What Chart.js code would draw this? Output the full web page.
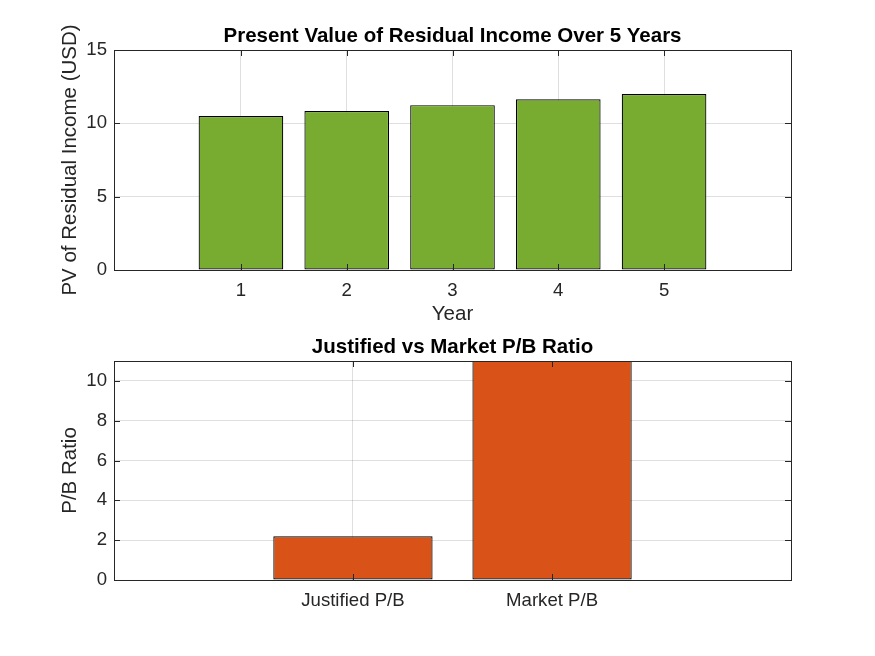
<!DOCTYPE html>
<html>
<head>
<meta charset="utf-8">
<script src="https://cdn.jsdelivr.net/npm/chart.js@4/dist/chart.umd.min.js"></script>
<style>
  html, body { margin: 0; padding: 0; background: #ffffff; }
  #wrap { position: relative; width: 875px; height: 656px; }
  canvas { position: absolute; left: 0; top: 0; }
</style>
</head>
<body>
<div id="wrap">
  <canvas id="c1" width="875" height="656"></canvas>
  <canvas id="c2" width="875" height="656"></canvas>
</div>
<script>
// ---- data ----
const years = [1, 2, 3, 4, 5];
const pvResidualIncome = [10.50, 10.84, 11.24, 11.64, 12.00];
const pvTicks = [0, 5, 10, 15];

const pbLabels = ['Justified P/B', 'Market P/B'];
const pbValues = [2.2, 12.0];
const pbTicks = [0, 2, 4, 6, 8, 10];

// ---- styles ----
const AXIS = '#262626';
const GRID = 'rgba(38,38,38,0.15)';
const FONT = '"Liberation Sans", Arial, Helvetica, sans-serif';
const TICK_SIZE = 18.6;
const LABEL_SIZE = 20.5;
const TITLE_SIZE = 20.5;

function boxPlugin(titleText) {
  return {
    id: 'matlabBox',
    afterDraw(chart) {
      const ctx = chart.ctx;
      const a = chart.chartArea;
      const xs = chart.scales.x, ys = chart.scales.y;
      ctx.save();
      ctx.strokeStyle = AXIS;
      ctx.lineWidth = 1;
      // ticks (inward, mirrored)
      const tl = 6;
      ctx.beginPath();
      xs.ticks.forEach(t => {
        const px = Math.round(xs.getPixelForValue(t.value)) + 0.5;
        ctx.moveTo(px, a.bottom); ctx.lineTo(px, a.bottom - tl);
        ctx.moveTo(px, a.top); ctx.lineTo(px, a.top + tl);
      });
      ys.ticks.forEach(t => {
        const py = Math.round(ys.getPixelForValue(t.value)) + 0.5;
        ctx.moveTo(a.left, py); ctx.lineTo(a.left + tl, py);
        ctx.moveTo(a.right, py); ctx.lineTo(a.right - tl, py);
      });
      ctx.stroke();
      // box
      ctx.strokeRect(Math.round(a.left) + 0.5, Math.round(a.top) + 0.5,
                     Math.round(a.right - a.left), Math.round(a.bottom - a.top));
      // title
      ctx.fillStyle = '#000000';
      ctx.font = 'bold ' + TITLE_SIZE + 'px ' + FONT;
      ctx.textAlign = 'center';
      ctx.textBaseline = 'middle';
      ctx.fillText(titleText, (a.left + a.right) / 2, a.top - 14);
      ctx.restore();
    }
  };
}

function makeChart(id, cfg) {
  const xLabelsFor = cfg.xTickLabel;
  return new Chart(document.getElementById(id), {
    type: 'bar',
    data: {
      datasets: [{
        data: cfg.values.map((v, i) => ({ x: cfg.xpos[i], y: v })),
        backgroundColor: cfg.color,
        borderColor: '#000000',
        borderWidth: 1.2,
        borderSkipped: false,
        categoryPercentage: 1.0,
        barPercentage: 0.8
      }]
    },
    options: {
      responsive: false,
      animation: false,
      devicePixelRatio: 1,
      layout: { padding: cfg.padding },
      plugins: { legend: { display: false }, title: { display: false }, tooltip: { enabled: false } },
      scales: {
        x: {
          type: 'linear',
          offset: false,
          min: cfg.xmin, max: cfg.xmax,
          afterBuildTicks: s => { s.ticks = cfg.xpos.map(v => ({ value: v })); },
          afterFit: s => { s.height = cfg.xAxisH; },
          grid: { color: GRID, drawTicks: false, offset: false },
          border: { display: false },
          ticks: {
            padding: 9.5,
            color: AXIS,
            font: { family: FONT, size: TICK_SIZE },
            maxRotation: 0,
            callback: (v) => xLabelsFor(v)
          },
          title: {
            display: !!cfg.xTitle,
            text: cfg.xTitle || '',
            color: AXIS,
            font: { family: FONT, size: LABEL_SIZE },
            padding: { top: 0, bottom: cfg.xTitlePad }
          }
        },
        y: {
          min: cfg.ymin, max: cfg.ymax,
          afterBuildTicks: s => { s.ticks = cfg.yTicks.map(v => ({ value: v })); },
          afterFit: s => { s.width = 114 - cfg.padding.left; },
          grid: { color: GRID, drawTicks: false },
          border: { display: false },
          ticks: {
            padding: 7,
            color: AXIS,
            font: { family: FONT, size: TICK_SIZE }
          },
          title: {
            display: true,
            text: cfg.yTitle,
            color: AXIS,
            font: { family: FONT, size: LABEL_SIZE },
            padding: { top: cfg.yTitlePad, bottom: 0 }
          }
        }
      }
    },
    plugins: [boxPlugin(cfg.title)]
  });
}

makeChart('c1', {
  values: pvResidualIncome,
  xpos: years,
  xTickLabel: v => String(years[years.indexOf(v)]),
  color: '#77AC30',
  xmin: -0.2, xmax: 6.2,
  ymin: 0, ymax: 15, yTicks: pvTicks,
  padding: { top: 50, right: 84, left: 0, bottom: 656 - 328 },
  xAxisH: 58,
  xTitle: 'Year', xTitlePad: 1,
  yTitle: 'PV of Residual Income (USD)', yTitlePad: 58.5,
  title: 'Present Value of Residual Income Over 5 Years'
});

const pbPos = pbLabels.map((_, i) => i + 1);
makeChart('c2', {
  values: pbValues,
  xpos: pbPos,
  xTickLabel: v => pbLabels[pbPos.indexOf(v)],
  color: '#D95319',
  xmin: -0.2, xmax: 3.2,
  ymin: 0, ymax: 11, yTicks: pbTicks,
  padding: { top: 361, right: 84, left: 0, bottom: 0 },
  xAxisH: 656 - 580,
  xTitle: '', xTitlePad: 0,
  yTitle: 'P/B Ratio', yTitlePad: 58.5,
  title: 'Justified vs Market P/B Ratio'
});
</script>
</body>
</html>
